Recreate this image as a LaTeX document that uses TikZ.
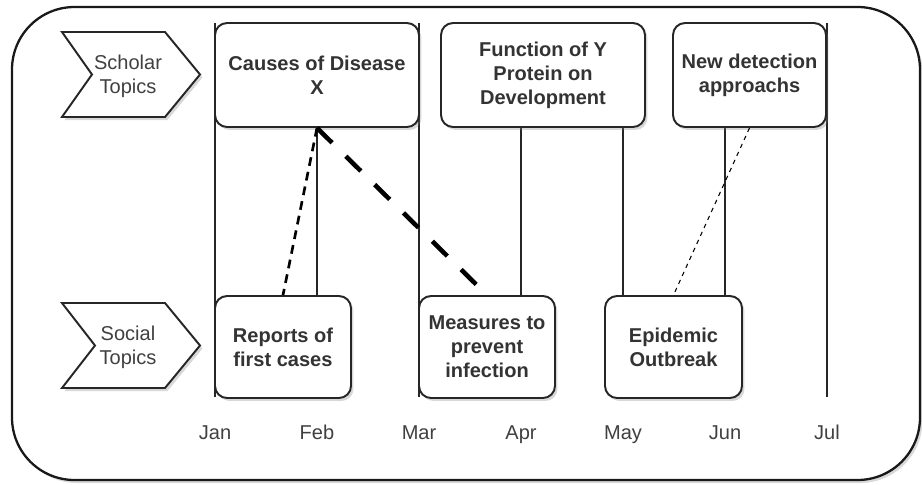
\documentclass[tikz,border=0pt]{standalone}
\usepackage{fontspec}
\setmainfont{Liberation Sans}
\usetikzlibrary{shadows}

\begin{document}
\begin{tikzpicture}[x=0.02cm,y=-0.02cm,
    shade/.style={drop shadow={shadow xshift=0.05cm, shadow yshift=-0.06cm, opacity=0.3}},
    topic/.style={shade, draw=black!85, line width=1.1pt, fill=white, rounded corners=0.24cm, align=center, text=black!80, inner sep=2pt, font=\fontsize{11.4}{13.7}\selectfont\bfseries},
    lane/.style={align=center, text=black!75, font=\fontsize{11.4}{13.7}\selectfont},
    chev/.style={shade, draw=black!85, line width=1.1pt, fill=white},
    month/.style={anchor=base, text=black!75, font=\fontsize{11.4}{13.7}\selectfont}]
    \useasboundingbox (0,0) rectangle (922,484);
    % frame
    \draw[shade, draw=black!90, line width=1.3pt, fill=white, rounded corners=1.25cm] (12,7) rectangle (920,480);
    % months
    \foreach \m [count=\i from 0] in {Jan,Feb,Mar,Apr,May,Jun,Jul}{
        \coordinate (top\i) at (215+102*\i,23);
        \coordinate (bot\i) at (215+102*\i,397);
        \draw[black!85, line width=0.6pt] (top\i) -- (bot\i);
        \node[month] (m\m) at (215+102*\i,439) {\m};
    }
    % lanes
    \draw[chev] (62,32) -- (165,32) -- (200,74.5) -- (165,117) -- (62,117) -- (92,74.5) -- cycle;
    \node[lane] (scholar) at (128,76) {Scholar\\Topics};
    \draw[chev] (62,303) -- (165,303) -- (200,345.5) -- (165,388) -- (62,388) -- (95,345.5) -- cycle;
    \node[lane] (social) at (128,347) {Social\\Topics};
    % topics
    \node[topic, minimum width=4.08cm, minimum height=2.08cm] (causes) at (317,75) {Causes of Disease\\X};
    \node[topic, minimum width=4.08cm, minimum height=2.08cm] (protein) at (543,75) {Function of Y\\Protein on\\Development};
    \node[topic, minimum width=3.06cm, minimum height=2.08cm] (detect) at (749.5,75) {New detection\\approachs};
    \node[topic, minimum width=2.72cm, minimum height=2.04cm] (reports) at (283,347) {Reports of\\first cases};
    \node[topic, minimum width=2.72cm, minimum height=2.04cm] (measures) at (487,347) {Measures to\\prevent\\infection};
    \node[topic, minimum width=2.74cm, minimum height=2.04cm] (outbreak) at (673.5,347) {Epidemic\\Outbreak};
    % links
    \draw[line width=2.6pt, dash pattern=on 12pt off 11pt] (causes.south) -- (measures.north);
    \draw[line width=1.5pt, dash pattern=on 5pt off 3.5pt] (causes.south) -- (reports.north);
    \draw[line width=0.6pt, dash pattern=on 2.5pt off 2.5pt] (detect.south) -- (outbreak.north);
\end{tikzpicture}
\end{document}
